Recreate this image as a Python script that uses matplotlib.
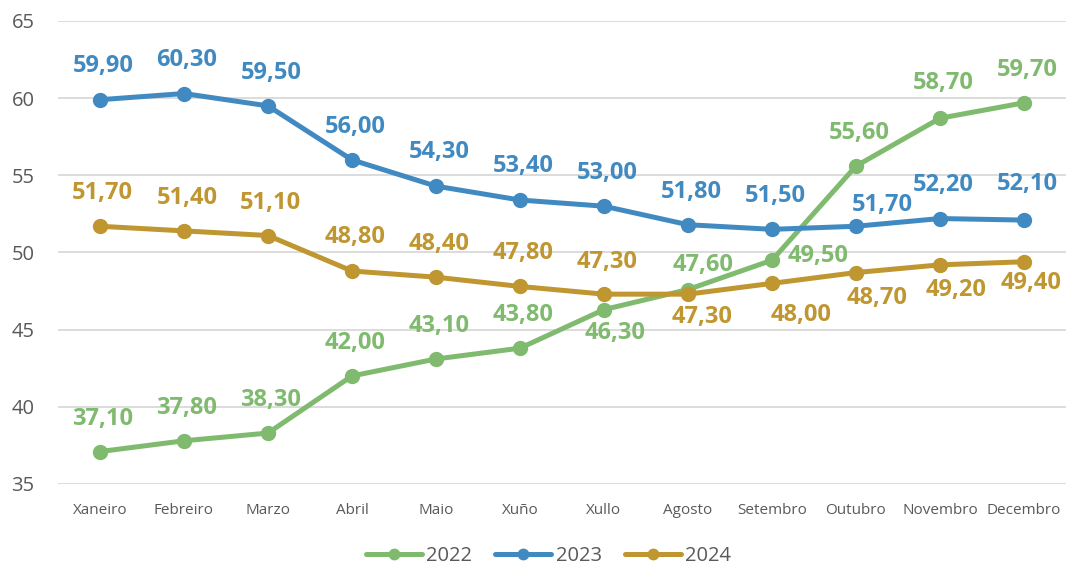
import matplotlib.pyplot as plt
import numpy as np

plt.rcParams['font.family'] = ['Open Sans', 'DejaVu Sans']

months = ['Xaneiro', 'Febreiro', 'Marzo', 'Abril', 'Maio', 'Xuño',
          'Xullo', 'Agosto', 'Setembro', 'Outubro', 'Novembro', 'Decembro']
v2022 = [37.1, 37.8, 38.3, 42.0, 43.1, 43.8, 46.3, 47.6, 49.5, 55.6, 58.7, 59.7]
v2023 = [59.9, 60.3, 59.5, 56.0, 54.3, 53.4, 53.0, 51.8, 51.5, 51.7, 52.2, 52.1]
v2024 = [51.7, 51.4, 51.1, 48.8, 48.4, 47.8, 47.3, 47.3, 48.0, 48.7, 49.2, 49.4]

# label offsets in pixels (dx, dy), positive dy = up
off2022 = [(3, 33), (3, 33), (3, 33), (3, 33), (3, 33), (3, 33),
           (11, -23), (15, 25), (46, 4), (3, 33), (3, 35), (3, 33)]
off2023 = [(3, 34), (3, 34), (3, 33), (3, 33), (3, 34), (3, 34),
           (3, 33), (3, 33), (3, 33), (26, 21), (3, 34), (3, 36)]
off2024 = [(2, 33), (3, 33), (2, 33), (3, 34), (3, 33), (3, 33),
           (3, 32), (14, -23), (29, -32), (21, -25), (16, -25), (7, -21)]

series = [('2022', v2022, '#7fba6e', off2022),
          ('2023', v2023, '#418ac1', off2023),
          ('2024', v2024, '#bf9630', off2024)]

fig = plt.figure(figsize=(10.66, 5.66), dpi=100)
ax = fig.add_axes([0.0544, 0.1449, 0.9456, 0.818])

x = np.arange(len(months))
for name, vals, col, offs in series:
    ax.plot(x, vals, color=col, lw=3.6, marker='o', markersize=10,
            label=name, solid_capstyle='round', zorder=3)
    for xi, v, (dx, dy) in zip(x, vals, offs):
        ax.annotate(f'{v:.2f}'.replace('.', ','), (xi, v),
                    xytext=(dx, dy), textcoords='offset pixels',
                    ha='center', va='center', fontsize=17,
                    fontweight='bold', color=col, zorder=4)

ax.set_xlim(-0.5, len(months) - 0.5)
ax.set_ylim(35, 65)
ax.set_yticks(range(35, 66, 5))
ax.set_xticks(x)
ax.set_xticklabels(months, fontsize=11, color='#595959')
ax.tick_params(axis='y', labelsize=14.5, colors='#595959', length=0, pad=17)
ax.tick_params(axis='x', length=0, pad=14)
ax.grid(axis='y', color='#d9d9d9', lw=1.3)
ax.set_axisbelow(True)
for s in ax.spines.values():
    s.set_visible(False)

fig.legend(loc='center', bbox_to_anchor=(0.5146, 0.017), ncol=3, frameon=False,
           fontsize=14.5, handlelength=2.78, columnspacing=1.15, handletextpad=0.2,
           markerscale=0.75, labelcolor='#595959')

fig.savefig('out.png', dpi=100)
